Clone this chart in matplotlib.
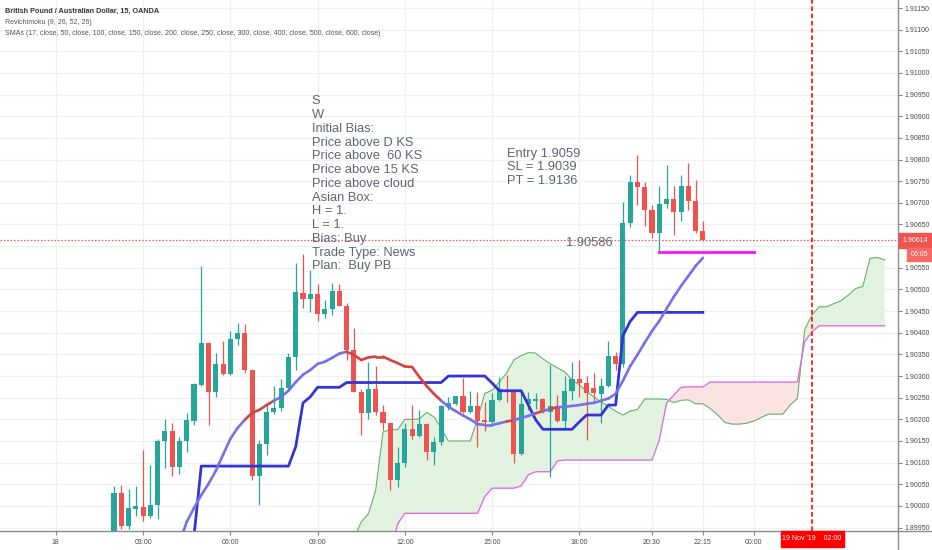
import numpy as np
import matplotlib.pyplot as plt
from matplotlib import font_manager
from matplotlib.collections import LineCollection
from matplotlib.patches import Rectangle
from matplotlib.lines import Line2D

# GBPAUD 15 min candles, bar 0 = 18 Nov 2019 00:00
candle_start = 8
opens = [1.89903, 1.90030, 1.89954, 1.89994, 1.89998, 1.89977, 1.90002, 1.90150, 1.90174, 1.90090,
         1.90150, 1.90197, 1.90280, 1.90376, 1.90262, 1.90328, 1.90305, 1.90385, 1.90400, 1.90313,
         1.90068, 1.90143, 1.90216, 1.90226, 1.90273, 1.90343, 1.90491, 1.90477, 1.90489, 1.90443,
         1.90454, 1.90497, 1.90462, 1.90359, 1.90264, 1.90214, 1.90270, 1.90218, 1.90191, 1.90060,
         1.90099, 1.90177, 1.90162, 1.90189, 1.90125, 1.90147, 1.90228, 1.90236, 1.90254, 1.90216,
         1.90231, 1.90199, 1.90194, 1.90245, 1.90268, 1.90263, 1.90120, 1.90236, 1.90242, 1.90247,
         1.90216, 1.90231, 1.90197, 1.90266, 1.90293, 1.90283, 1.90272, 1.90259, 1.90276, 1.90347,
         1.90328, 1.90654, 1.90747, 1.90736, 1.90684, 1.90630, 1.90698, 1.90708, 1.90680, 1.90739,
         1.90705, 1.90636]
highs = [1.90046, 1.90049, 1.90039, 1.90045, 1.90129, 1.90095, 1.90155, 1.90201, 1.90191, 1.90159,
         1.90214, 1.90283, 1.90553, 1.90378, 1.90353, 1.90380, 1.90404, 1.90423, 1.90420, 1.90315,
         1.90152, 1.90237, 1.90277, 1.90293, 1.90353, 1.90561, 1.90581, 1.90544, 1.90513, 1.90476,
         1.90514, 1.90513, 1.90468, 1.90410, 1.90270, 1.90333, 1.90323, 1.90233, 1.90192, 1.90137,
         1.90191, 1.90233, 1.90222, 1.90191, 1.90160, 1.90232, 1.90252, 1.90255, 1.90295, 1.90266,
         1.90262, 1.90239, 1.90260, 1.90297, 1.90303, 1.90265, 1.90268, 1.90262, 1.90260, 1.90249,
         1.90326, 1.90256, 1.90299, 1.90333, 1.90337, 1.90300, 1.90307, 1.90295, 1.90382, 1.90356,
         1.90703, 1.90765, 1.90811, 1.90749, 1.90695, 1.90738, 1.90788, 1.90738, 1.90765, 1.90792,
         1.90753, 1.90657]
lows = [1.89894, 1.89947, 1.89947, 1.89977, 1.89966, 1.89971, 1.89969, 1.90087, 1.90068, 1.90074,
        1.90125, 1.90187, 1.90278, 1.90187, 1.90251, 1.90303, 1.90303, 1.90372, 1.90308, 1.90060,
        1.90002, 1.90118, 1.90213, 1.90219, 1.90268, 1.90313, 1.90457, 1.90447, 1.90427, 1.90434,
        1.90441, 1.90461, 1.90337, 1.90262, 1.90164, 1.90200, 1.90210, 1.90176, 1.90037, 1.90043,
        1.90091, 1.90155, 1.90160, 1.90106, 1.90095, 1.90141, 1.90222, 1.90234, 1.90215, 1.90215,
        1.90136, 1.90172, 1.90192, 1.90243, 1.90241, 1.90100, 1.90118, 1.90222, 1.90223, 1.90215,
        1.90067, 1.90195, 1.90180, 1.90245, 1.90251, 1.90152, 1.90237, 1.90191, 1.90275, 1.90314,
        1.90322, 1.90644, 1.90695, 1.90647, 1.90618, 1.90584, 1.90688, 1.90626, 1.90657, 1.90684,
        1.90631, 1.90612]
closes = [1.90029, 1.89954, 1.89996, 1.90000, 1.89977, 1.90002, 1.90151, 1.90174, 1.90090, 1.90150,
          1.90199, 1.90281, 1.90376, 1.90262, 1.90328, 1.90305, 1.90385, 1.90400, 1.90313, 1.90068,
          1.90143, 1.90216, 1.90226, 1.90273, 1.90345, 1.90493, 1.90477, 1.90489, 1.90443, 1.90454,
          1.90497, 1.90462, 1.90359, 1.90264, 1.90214, 1.90270, 1.90218, 1.90191, 1.90060, 1.90099,
          1.90177, 1.90162, 1.90189, 1.90125, 1.90147, 1.90231, 1.90237, 1.90254, 1.90216, 1.90231,
          1.90197, 1.90194, 1.90245, 1.90270, 1.90263, 1.90120, 1.90236, 1.90246, 1.90247, 1.90216,
          1.90231, 1.90197, 1.90266, 1.90293, 1.90283, 1.90260, 1.90260, 1.90276, 1.90347, 1.90328,
          1.90654, 1.90747, 1.90736, 1.90684, 1.90630, 1.90698, 1.90708, 1.90680, 1.90739, 1.90705,
          1.90636, 1.90614]

# SMA 17 (the only SMA visible in range)
sma_start = 17
sma17 = [1.89915, 1.89963, 1.89995, 1.90025, 1.90051, 1.90081, 1.90118, 1.90155, 1.90180, 1.90199,
         1.90215, 1.90222, 1.90233, 1.90243, 1.90252, 1.90266, 1.90286, 1.90303, 1.90314, 1.90328,
         1.90333, 1.90342, 1.90352, 1.90356, 1.90349, 1.90337, 1.90343, 1.90345, 1.90345, 1.90337,
         1.90330, 1.90322, 1.90321, 1.90298, 1.90277, 1.90259, 1.90243, 1.90229, 1.90219, 1.90209,
         1.90200, 1.90189, 1.90187, 1.90187, 1.90191, 1.90195, 1.90198, 1.90203, 1.90208, 1.90214,
         1.90219, 1.90224, 1.90228, 1.90229, 1.90231, 1.90233, 1.90236, 1.90238, 1.90243, 1.90248,
         1.90259, 1.90289, 1.90323, 1.90349, 1.90377, 1.90404, 1.90427, 1.90455, 1.90483, 1.90508,
         1.90531, 1.90554, 1.90573]

# Revichimoku base line
kijun_start = 18
kijun = [1.89880, 1.89930,
         1.90092, 1.90092, 1.90092, 1.90092, 1.90092, 1.90092, 1.90092, 1.90092, 1.90092, 1.90092,
         1.90092, 1.90092, 1.90092, 1.90137, 1.90238, 1.90252, 1.90274, 1.90274, 1.90274, 1.90274,
         1.90285, 1.90285, 1.90285, 1.90285, 1.90285, 1.90285, 1.90285, 1.90285, 1.90285, 1.90285,
         1.90285, 1.90285, 1.90285, 1.90285, 1.90300, 1.90300, 1.90300, 1.90300, 1.90300, 1.90300,
         1.90284, 1.90266, 1.90266, 1.90266, 1.90266, 1.90233, 1.90199, 1.90177, 1.90177, 1.90177,
         1.90177, 1.90177, 1.90194, 1.90210, 1.90210, 1.90210, 1.90233, 1.90233, 1.90393, 1.90426,
         1.90447, 1.90447, 1.90447, 1.90447, 1.90447, 1.90447, 1.90447, 1.90447, 1.90447, 1.90447]

# cloud spans (shifted forward), both from bar 41
span_start = 41
span_a = [1.89925, 1.89963, 1.89982, 1.90037, 1.90171, 1.90176, 1.90176, 1.90200, 1.90200, 1.90201,
          1.90216, 1.90206, 1.90180, 1.90150, 1.90150, 1.90150, 1.90150, 1.90201, 1.90260, 1.90267,
          1.90286, 1.90307, 1.90337, 1.90347, 1.90354, 1.90353, 1.90340, 1.90328, 1.90319, 1.90310,
          1.90291, 1.90280, 1.90265, 1.90252, 1.90240, 1.90230, 1.90219, 1.90210, 1.90219, 1.90223,
          1.90247, 1.90247, 1.90247, 1.90246, 1.90239, 1.90244, 1.90245, 1.90236, 1.90236, 1.90225,
          1.90211, 1.90193, 1.90189, 1.90189, 1.90191, 1.90196, 1.90204, 1.90212, 1.90212, 1.90212,
          1.90233, 1.90248, 1.90407, 1.90441, 1.90460, 1.90460, 1.90467, 1.90474, 1.90487, 1.90502,
          1.90507, 1.90572, 1.90574, 1.90568]
span_b = [1.89880, 1.89880, 1.89880, 1.89880, 1.89880, 1.89880, 1.89958, 1.89983, 1.89983, 1.89983,
          1.89983, 1.89983, 1.89983, 1.89983, 1.89983, 1.89983, 1.89983, 1.89983, 1.90021, 1.90041,
          1.90041, 1.90041, 1.90041, 1.90046, 1.90072, 1.90079, 1.90079, 1.90079, 1.90104, 1.90106,
          1.90106, 1.90106, 1.90106, 1.90106, 1.90106, 1.90106, 1.90106, 1.90106, 1.90106, 1.90106,
          1.90106, 1.90106, 1.90152, 1.90237, 1.90256, 1.90274, 1.90275, 1.90275, 1.90275, 1.90286,
          1.90286, 1.90286, 1.90286, 1.90286, 1.90286, 1.90286, 1.90286, 1.90286, 1.90286, 1.90286,
          1.90286, 1.90286, 1.90379, 1.90402, 1.90416, 1.90416, 1.90416, 1.90416, 1.90416, 1.90416,
          1.90416, 1.90416, 1.90416, 1.90416]

# horizontal drawing and crosshair
level_price = 1.90586
level_bars = [83, 96]
cross_bar = 104

tick_bars = [0, 12, 24, 36, 48, 60, 72, 82, 89, 96]
tick_labels = ['18', '03:00', '06:00', '09:00', '12:00', '15:00', '18:00', '20:30', '22:15', '00:00']

header = "British Pound / Australian Dollar, 15, OANDA"
ind1 = "Revichimoku (9, 26, 52, 26)"
ind2 = ("SMAs (17, close, 50, close, 100, close, 150, close, 200, close, 250, close, "
        "300, close, 400, close, 500, close, 600, close)")
notes = ["S", "W", "Initial Bias:", "Price above D KS", "Price above  60 KS", "Price above 15 KS",
         "Price above cloud", "Asian Box:", "H = 1.", "L = 1.", "Bias: Buy", "Trade Type: News",
         "Plan:  Buy PB"]
trade = ["Entry 1.9059", "SL = 1.9039", "PT = 1.9136"]

# fonts: the screenshot text is narrow
names = {f.name for f in font_manager.fontManager.ttflist}
if 'Liberation Sans Narrow' in names:
    FONT, k = 'Liberation Sans Narrow', 1.0
else:
    FONT, k = 'Liberation Sans', 0.82
plt.rcParams['font.family'] = [FONT, 'DejaVu Sans']

W, H = 932, 550
GREEN, RED = '#26a69a', '#ef5350'
TXT = '#5d6673'


def fx(px):
    return px / W


def fy(py):
    return 1 - py / H


fig = plt.figure(figsize=(W / 100, H / 100), dpi=100)
ax = fig.add_axes([0, fy(530.7), fx(898), 530.7 / H])
ax.set_xlim(-7.68, 115.84)
ax.set_ylim(1.899428, 1.911685)

# grid
price_ticks = np.arange(1.8995, 1.91151, 0.0005)
for p in price_ticks:
    ax.axhline(p, color='#eef0f3', lw=0.9, zorder=0)
for b in tick_bars:
    ax.axvline(b, color='#eef0f3', lw=0.9, zorder=0)

# ichimoku cloud
sx = np.arange(span_start, span_start + len(span_a))
sa = np.array(span_a)
sb = np.array(span_b)
ax.fill_between(sx, sa, sb, where=sa >= sb, interpolate=True, color='#e2f2e0', lw=0, zorder=1)
ax.fill_between(sx, sa, sb, where=sa < sb, interpolate=True, color='#fbe3e3', lw=0, zorder=1)
ax.plot(sx, sa, color='#6aaf6a', lw=0.8, zorder=2)
ax.plot(sx, sb, color='#e06ee0', lw=1.0, zorder=2)

# last price line
ax.axhline(closes[-1], color=RED, lw=0.9, ls=(0, (1.2, 1.5)), zorder=2)

# candles
o = np.array(opens)
h = np.array(highs)
l = np.array(lows)
c = np.array(closes)
cx = np.arange(candle_start, candle_start + len(o))
cols = np.where(c >= o, GREEN, RED)
ax.vlines(cx, l, h, colors=cols, lw=0.9, zorder=3)
body = np.maximum(np.abs(c - o), 0.00003)
ax.bar(cx, body, bottom=np.minimum(o, c), width=0.7, color=cols, lw=0, zorder=3.5)

# horizontal level drawing
ax.plot(level_bars, [level_price, level_price], color='#ff10ff', lw=2, zorder=4)

# base line
kx = np.arange(kijun_start, kijun_start + len(kijun))
ax.plot(kx, kijun, color='#3434d4', lw=2.0, zorder=5, solid_joinstyle='round')

# SMA 17, red where close is below it
mx = np.arange(sma_start, sma_start + len(sma17))
my = np.array(sma17)
pts = np.column_stack([mx, my])
segs = np.stack([pts[:-1], pts[1:]], axis=1)
seg_cols = ['#d9423c' if c[b - candle_start] < my[b - sma_start] else '#7670ec' for b in mx[1:]]
ax.add_collection(LineCollection(segs, colors=seg_cols, linewidths=1.9, zorder=5,
                                 capstyle='round', joinstyle='round'))

# crosshair line
ax.axvline(cross_bar, color='#ff1a1a', lw=1.3, ls=(0, (2.5, 1.5)), zorder=6)

# axes styling
for s in ax.spines.values():
    s.set_visible(False)
ax.yaxis.tick_right()
ax.set_yticks(price_ticks)
ax.set_yticklabels([f'{p:.5f}' for p in price_ticks])
ax.set_xticks(tick_bars)
ax.set_xticklabels(tick_labels)
ax.tick_params(axis='y', length=3, width=0.8, color='#888888', pad=2,
               labelsize=6.2 * k, labelcolor='#4a4a4a')
ax.tick_params(axis='x', length=3, width=0.8, color='#888888', pad=3,
               labelsize=6.2 * k, labelcolor='#4a4a4a')

fig.add_artist(Line2D([0, 1], [fy(530.7), fy(530.7)], color='#8c8c8c', lw=1.0))
fig.add_artist(Line2D([fx(898), fx(898)], [0, 1], color='#8c8c8c', lw=1.0))

# header
fig.text(fx(5), fy(11.7), header, fontsize=6.4 * k, fontweight='bold', color='#333333', va='center')
fig.text(fx(5), fy(22.7), ind1, fontsize=6.2 * k, color='#555555', va='center')
fig.text(fx(5), fy(33.3), ind2, fontsize=6.2 * k, color='#555555', va='center')

# notes
for i, line in enumerate(notes):
    fig.text(fx(311.7), fy(104.3 + 13.75 * i), line, fontsize=11.3 * k, color=TXT, va='baseline')
for i, line in enumerate(trade):
    fig.text(fx(507.3), fy(156.7 + 13.4 * i), line, fontsize=11.3 * k, color=TXT, va='baseline')
fig.text(fx(566), fy(245.7), f'{level_price:.5f}', fontsize=11.3 * k, color=TXT, va='baseline')

# price-scale badges
fig.add_artist(Rectangle((fx(899), fy(248)), fx(33), 15 / H, color=RED, zorder=5))
fig.text(fx(915.5), fy(240.5), f'{closes[-1]:.5f}', fontsize=6.2 * k, color='white',
         ha='center', va='center', zorder=6)
fig.add_artist(Rectangle((fx(907), fy(261)), fx(25), 13 / H, color='#f36a67', zorder=5))
fig.text(fx(919.5), fy(254.7), '06:05', fontsize=6.2 * k, color='white',
         ha='center', va='center', zorder=6)

# crosshair time badge
fig.add_artist(Rectangle((fx(780.7), fy(546.7)), fx(63.3), 16 / H, color='#ff0000', zorder=5))
fig.text(fx(812), fy(538.7), "19 Nov '19    02:00", fontsize=6.2 * k, color='white',
         ha='center', va='center', zorder=6)

fig.savefig('out.png', dpi=100)
